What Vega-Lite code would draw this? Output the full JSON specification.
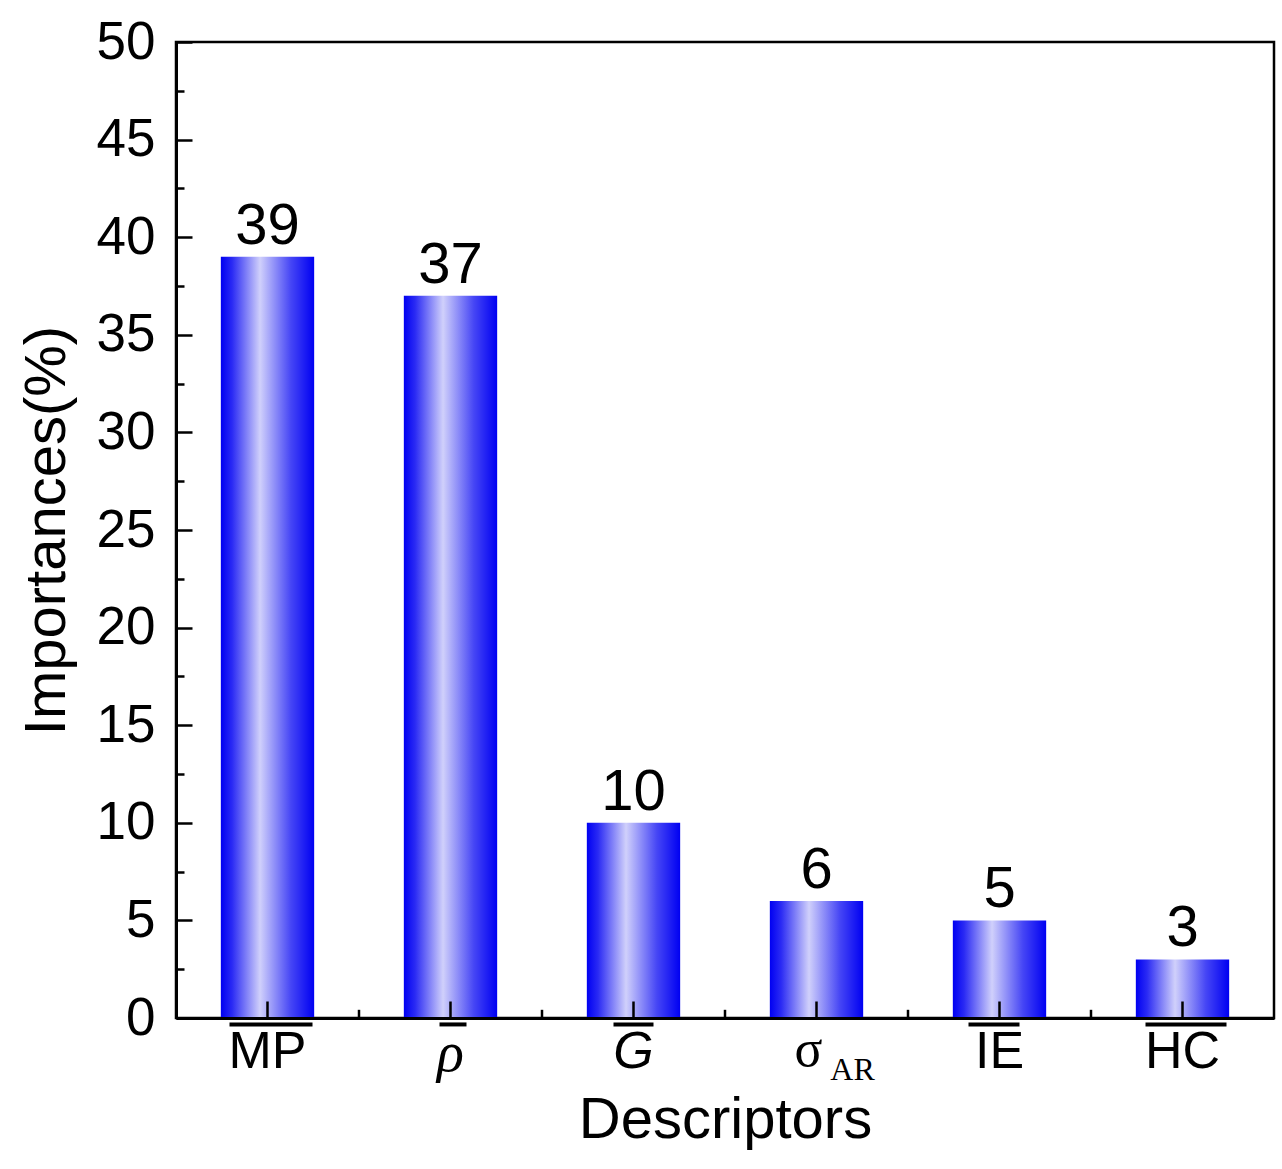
{
  "$schema": "https://vega.github.io/schema/vega-lite/v6.json",
  "width": 1098,
  "height": 976,
  "autosize": {"type": "none"},
  "padding": {"left": 176, "top": 42, "right": 8, "bottom": 151},
  "background": "white",
  "config": {
    "view": {"stroke": "black", "strokeWidth": 2.5},
    "font": "Liberation Sans"
  },
  "data": {
    "values": [
      {"descriptor": "MP", "importance": 39},
      {"descriptor": "ρ", "importance": 37},
      {"descriptor": "G", "importance": 10},
      {"descriptor": "σAR", "importance": 6},
      {"descriptor": "IE", "importance": 5},
      {"descriptor": "HC", "importance": 3}
    ]
  },
  "encoding": {
    "x": {
      "field": "descriptor",
      "type": "nominal",
      "sort": null,
      "scale": {"paddingInner": 0.49, "paddingOuter": 0.245},
      "axis": {
        "zindex": 1,
        "title": "Descriptors",
        "titleFont": "Liberation Sans",
        "titleFontSize": 58,
        "titleFontWeight": "normal",
        "titleColor": "black",
        "titlePadding": 10,
        "labelAngle": 0,
        "labelFont": {"condition": {"test": "datum.value == 'ρ'", "value": "Liberation Serif"}, "value": "Liberation Sans"},
        "labelFontSize": {"condition": {"test": "datum.value == 'ρ'", "value": 56}, "value": 52},
        "labelColor": "black",
        "labelPadding": 25,
        "labelFontStyle": {"condition": {"test": "datum.value == 'ρ' || datum.value == 'G'", "value": "italic"}, "value": "normal"},
        "labelExpr": "datum.value == 'σAR' ? '' : datum.value",
        "tickSize": -17,
        "tickWidth": 2.5,
        "tickColor": "black",
        "domainColor": "black",
        "domainWidth": 3,
        "grid": false
      }
    }
  },
  "layer": [
    {
      "mark": {
        "type": "bar",
        "color": {
          "gradient": "linear",
          "x1": 0, "x2": 1, "y1": 0, "y2": 0,
          "stops": [
            {"offset": 0, "color": "#0000f2"},
            {"offset": 0.12, "color": "#2a2af4"},
            {"offset": 0.42, "color": "#d0d0fb"},
            {"offset": 0.75, "color": "#4646f5"},
            {"offset": 1, "color": "#0000f2"}
          ]
        }
      },
      "encoding": {
        "y": {
          "field": "importance",
          "type": "quantitative",
          "scale": {"domain": [0, 50], "nice": false, "zero": true},
          "axis": {
            "zindex": 1,
            "title": "Importances(%)",
            "titleFont": "Liberation Sans",
            "titleFontSize": 58,
            "titleFontWeight": "normal",
            "titleColor": "black",
            "titlePadding": 20,
            "values": [0, 2.5, 5, 7.5, 10, 12.5, 15, 17.5, 20, 22.5, 25, 27.5, 30, 32.5, 35, 37.5, 40, 42.5, 45, 47.5, 50],
            "labelExpr": "datum.value % 5 === 0 ? datum.label : ''",
            "labelFont": "Liberation Sans",
            "labelFontSize": 53,
            "labelColor": "black",
            "labelPadding": 37,
            "tickSize": {"condition": {"test": "datum.value % 5 === 0", "value": -16}, "value": -8},
            "tickWidth": 2.5,
            "tickColor": "black",
            "domainColor": "black",
            "domainWidth": 3,
            "grid": false
          }
        }
      }
    },
    {
      "mark": {"type": "text", "baseline": "alphabetic", "dy": -13, "fontSize": 58, "font": "Liberation Sans", "color": "black"},
      "encoding": {
        "y": {"field": "importance", "type": "quantitative"},
        "text": {"field": "importance", "type": "quantitative"}
      }
    },
    {
      "transform": [{"filter": "datum.descriptor != 'HC'"}],
      "mark": {"type": "rule", "color": "black", "strokeWidth": 2.5, "xOffset": 91.5},
      "encoding": {
        "y": {"datum": 0},
        "y2": {"datum": 0.42}
      }
    },
    {
      "transform": [{"filter": "datum.descriptor != 'σAR'"}],
      "mark": {
        "type": "rule",
        "color": "black",
        "strokeWidth": 4,
        "xOffset": {"expr": "datum.descriptor == 'MP' ? -38 : datum.descriptor == 'ρ' ? -11 : datum.descriptor == 'G' ? -20 : datum.descriptor == 'IE' ? -31 : -37"},
        "x2Offset": {"expr": "datum.descriptor == 'MP' ? 45 : datum.descriptor == 'ρ' ? 16 : datum.descriptor == 'G' ? 20 : datum.descriptor == 'IE' ? 20 : 44"}
      },
      "encoding": {
        "x2": {"field": "descriptor"},
        "y": {"datum": -0.33}
      }
    },
    {
      "transform": [{"filter": "datum.descriptor == 'σAR'"}],
      "mark": {"type": "text", "text": "σ", "font": "Liberation Serif", "fontSize": 52, "baseline": "alphabetic", "dx": -8, "dy": 48, "color": "black"},
      "encoding": {"y": {"datum": 0}}
    },
    {
      "transform": [{"filter": "datum.descriptor == 'σAR'"}],
      "mark": {"type": "text", "text": "AR", "font": "Liberation Serif", "fontSize": 32, "baseline": "alphabetic", "dx": 36, "dy": 62, "color": "black"},
      "encoding": {"y": {"datum": 0}}
    }
  ]
}
